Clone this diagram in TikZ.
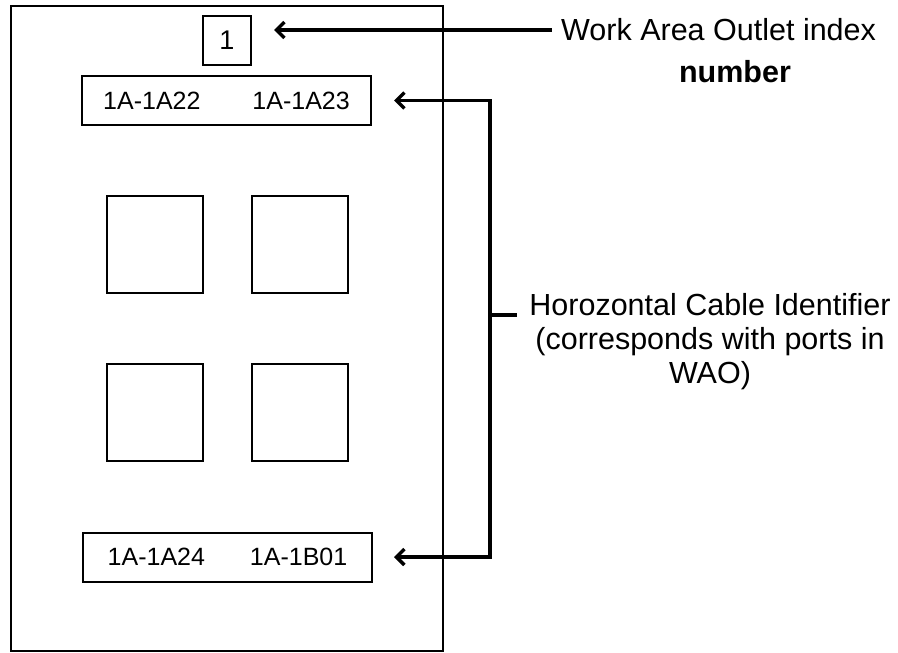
\documentclass[tikz,border=0pt]{standalone}
\usepackage{fontspec}
\setmainfont{Liberation Sans}
\usetikzlibrary{arrows.meta}
\tikzset{wtip/.tip={Straight Barb[length=8pt,width=16pt]}}
\begin{document}
\begin{tikzpicture}[x=1pt,y=-1pt,
  boxline/.style={draw=black,line width=2pt,inner sep=0pt},
  port/.style={boxline,minimum width=96pt,minimum height=97pt},
  lab/.style={boxline,minimum width=289pt,minimum height=49pt,font=\fontsize{25}{30}\selectfont},
  conn/.style={line width=3.5pt,black},
  txt/.style={font=\fontsize{30.5}{34}\selectfont,align=center,inner sep=0pt}]
\useasboundingbox (0,0) rectangle (898,653);
\node[boxline,minimum width=432pt,minimum height=645pt] (wao) at (227,328) {};
\node[boxline,minimum width=48pt,minimum height=49pt,font=\fontsize{27}{30}\selectfont] (idx) at (227,40.5) {1};
\node[lab] (l1) at (226.5,100.5) {1A-1A22\hspace{52pt}1A-1A23};
\node[lab] (l2) at (227.5,557) {1A-1A24\hspace{45pt}1A-1B01};
\node[port] (p1) at (155,244.5) {};
\node[port] (p2) at (299.5,244.5) {};
\node[port] (p3) at (155,412.5) {};
\node[port] (p4) at (299.5,412.5) {};
\node[txt,anchor=west] (t1) at (561,30) {Work Area Outlet index};
\node[txt,font=\fontsize{30.5}{34}\selectfont\bfseries] (t2) at (735,72) {number};
\node[txt] (t3) at (710,342) {Horozontal Cable Identifier\\(corresponds with ports in\\WAO)};
\coordinate (w1) at (552,30);
\coordinate (b1) at (490,100.5);
\coordinate (b2) at (490,557);
\coordinate (bm) at (490,315);
\coordinate (bt) at (517,315);
\draw[conn,wtip-,shorten <=22pt] (idx.east |- w1) -- (w1);
\draw[conn,wtip-wtip,shorten <=22pt,shorten >=21pt] (l1.east) -- (b1) -- (b2) -- (l2.east);
\draw[conn] (bm) -- (bt);
\end{tikzpicture}
\end{document}
